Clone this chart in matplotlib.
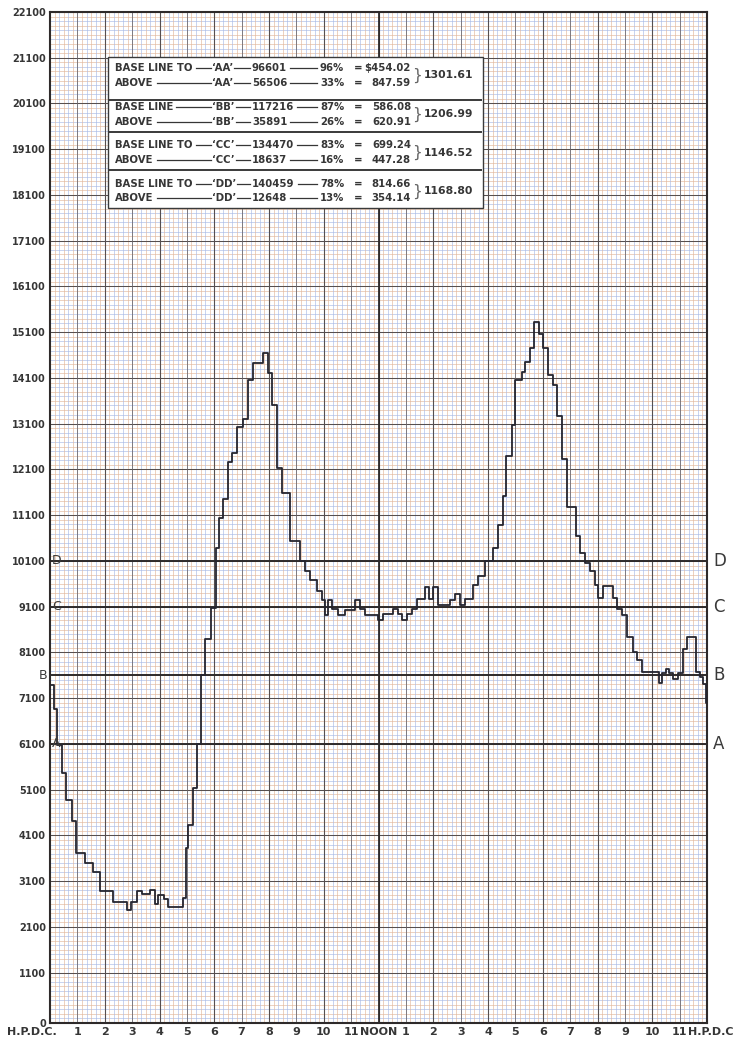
import numpy as np
import matplotlib
matplotlib.use('Agg')
import matplotlib.pyplot as plt
from matplotlib.patches import Rectangle
from matplotlib.lines import Line2D

W, H = 737, 1040

# load curve: start hour of each step and its value
hours = [0.00, 0.15, 0.25, 0.43, 0.58, 0.82, 0.94, 1.28, 1.58, 1.83,
         2.29, 2.82, 2.95, 3.17, 3.35, 3.65, 3.84, 3.96, 4.16, 4.31,
         4.85, 4.97, 5.05, 5.21, 5.36, 5.50, 5.66, 5.88, 6.06, 6.18,
         6.33, 6.51, 6.66, 6.82, 7.06, 7.24, 7.43, 7.79, 7.97, 8.10,
         8.30, 8.46, 8.77, 9.13, 9.32, 9.50, 9.74, 9.93, 10.05, 10.16,
         10.30, 10.52, 10.78, 11.14, 11.32, 11.51, 11.98, 12.16, 12.53, 12.71,
         12.86, 13.04, 13.22, 13.41, 13.70, 13.84, 13.99, 14.17, 14.61, 14.79,
         14.98, 15.16, 15.45, 15.63, 15.89, 16.18, 16.37, 16.55, 16.66, 16.88,
         16.99, 17.24, 17.35, 17.53, 17.68, 17.86, 18.01, 18.19, 18.37, 18.52,
         18.70, 18.89, 19.21, 19.36, 19.54, 19.73, 19.91, 20.02, 20.20, 20.57,
         20.71, 20.89, 21.08, 21.30, 21.46, 21.64, 22.26, 22.37, 22.52, 22.63,
         22.76, 22.94, 23.12, 23.27, 23.60, 23.74, 23.85, 23.96]
load = [7380, 6860, 6080, 5470, 4870, 4410, 3720, 3500, 3310, 2880,
        2640, 2470, 2640, 2880, 2810, 2900, 2600, 2790, 2700, 2530,
        2730, 3830, 4330, 5130, 6100, 7600, 8390, 9080, 10380, 11050,
        11460, 12260, 12460, 13020, 13210, 14060, 14420, 14640, 14210, 13520,
        12130, 11590, 10530, 10100, 9880, 9690, 9450, 9240, 8910, 9240,
        9040, 8910, 9020, 9240, 9040, 8910, 8820, 8930, 9060, 8950,
        8820, 8950, 9060, 9260, 9520, 9260, 9520, 9130, 9240, 9370,
        9130, 9260, 9580, 9780, 10100, 10380, 10880, 11530, 12390, 13080,
        14060, 14230, 14450, 14750, 15330, 15070, 14750, 14170, 13950, 13260,
        12330, 11290, 10640, 10270, 10060, 9880, 9580, 9300, 9560, 9300,
        9040, 8910, 8440, 8110, 7940, 7680, 7440, 7640, 7740, 7640,
        7510, 7640, 8180, 8440, 7680, 7570, 7400, 6990]

base_levels = [6100, 7600, 9100, 10100]
base_names = ['A', 'B', 'C', 'D']

ytick_vals = [0] + list(range(1100, 22101, 1000))
hour_ticks = list(range(1, 24))
hour_labels = [str(h) for h in range(1, 12)] + ['NOON'] + [str(h) for h in range(1, 12)]

table_rows = [
    ('BASE LINE TO', 'AA', '96601', '96%', '$454.02'),
    ('ABOVE', 'AA', '56506', '33%', '847.59'),
    ('BASE LINE', 'BB', '117216', '87%', '586.08'),
    ('ABOVE', 'BB', '35891', '26%', '620.91'),
    ('BASE LINE TO', 'CC', '134470', '83%', '699.24'),
    ('ABOVE', 'CC', '18637', '16%', '447.28'),
    ('BASE LINE TO', 'DD', '140459', '78%', '814.66'),
    ('ABOVE', 'DD', '12648', '13%', '354.14'),
]
table_totals = ['1301.61', '1206.99', '1146.52', '1168.80']

ink = '#2e2a2a'
txt = '#363636'
blue = '#a9bbe6'
orange = '#e2b89c'

fig = plt.figure(figsize=(W / 100, H / 100), dpi=100)
ax = fig.add_axes([50 / W, 1 - 1023 / H, 657 / W, 1011 / H])
ax.set_xlim(0, 24)
ax.set_ylim(0, 22100)

# graph paper
fy = np.arange(0, 22101, 100)
ax.hlines(fy, 0, 24, colors=[blue if i % 2 else orange for i in range(len(fy))], lw=0.45, zorder=1)
fx = np.arange(0, 24.001, 1 / 6)
ax.vlines(fx, 0, 22100, colors=[orange if i % 2 else blue for i in range(len(fx))], lw=0.45, zorder=1)

ax.hlines(range(1100, 22101, 1000), 0, 24, colors='#564f4f', lw=0.75, zorder=2)
ax.vlines(range(1, 24, 2), 0, 22100, colors='#6a6262', lw=0.55, zorder=2)
ax.vlines(range(2, 24, 2), 0, 22100, colors='#564f4f', lw=0.8, zorder=2)
ax.axvline(12, color=ink, lw=1.3, zorder=2)

# base lines
ax.hlines(base_levels, 0, 24, colors=ink, lw=1.4, zorder=3)
for lvl, name in zip(base_levels, base_names):
    ax.text(24.22, lvl, name, fontsize=12, color='#3a3a3a', va='center', ha='left', clip_on=False)
    if name == 'B':
        ax.text(-0.08, lvl, name, fontsize=9, color='#3a3a3a', va='center', ha='right', clip_on=False)
    else:
        ax.text(0.08, lvl, name, fontsize=9, color='#3a3a3a', va='center', ha='left', zorder=5)

ax.step(hours + [24], load + [load[-1]], where='post', color='#25252f', lw=1.3, zorder=4)

for s in ax.spines.values():
    s.set_color(ink)
    s.set_linewidth(1.5)

ax.set_yticks(ytick_vals)
ax.set_yticklabels([str(v) for v in ytick_vals], fontsize=7, fontweight='bold', color=txt)
ax.set_xticks(hour_ticks)
ax.set_xticklabels(hour_labels, fontsize=8, fontweight='bold', color=txt)
ax.tick_params(length=0, pad=3)
fig.text(57 / W, 1 - 1032 / H, 'H.P.D.C.', ha='right', va='center', fontsize=8, fontweight='bold', color=txt)
fig.text(688 / W, 1 - 1032 / H, 'H.P.D.C', ha='left', va='center', fontsize=8, fontweight='bold', color=txt)

# table box
fig.add_artist(Rectangle((108 / W, 1 - 208 / H), 375 / W, 151 / H, transform=fig.transFigure,
                         facecolor='white', edgecolor='#3a3a3a', lw=1.0, zorder=5))
for sy in [100, 132, 170]:
    fig.add_artist(Line2D([110 / W, 481 / W], [1 - sy / H] * 2, color='#3a3a3a', lw=1.4, zorder=6))

renderer = fig.canvas.get_renderer()


def ftext(x, y, s, ha='left', size=7.3):
    return fig.text(x / W, 1 - y / H, s, ha=ha, va='center', fontsize=size,
                    fontweight='bold', color=txt, zorder=7)


def ext(t):
    bb = t.get_window_extent(renderer)
    return bb.x0, bb.x1


def dash(x0, x1, y):
    fig.add_artist(Line2D([x0 / W, x1 / W], [1 - y / H] * 2, color=txt, lw=0.9, zorder=7))


row_y = [68, 83, 107, 122, 145, 160, 184, 198]
for (lab, q, num, pct, val), y in zip(table_rows, row_y):
    t1 = ftext(115, y, lab)
    t2 = ftext(212, y, '\u2018' + q + '\u2019')
    t3 = ftext(252, y, num)
    t4 = ftext(320, y, pct)
    ftext(358, y, '=', ha='center')
    ftext(411, y, val, ha='right')
    a, b = ext(t1)
    c, d = ext(t2)
    dash(b + 3, c - 1, y)
    e, f = ext(t3)
    dash(d + 1, e - 2, y)
    g, h = ext(t4)
    dash(f + 3, g - 3, y)

for i, tot in enumerate(table_totals):
    ym = (row_y[2 * i] + row_y[2 * i + 1]) / 2
    fig.text(412 / W, 1 - ym / H, '}', ha='left', va='center', fontsize=11, color='#666', zorder=7)
    ftext(424, ym, tot, size=7.8)

fig.savefig('out.png', dpi=100, facecolor='white')
